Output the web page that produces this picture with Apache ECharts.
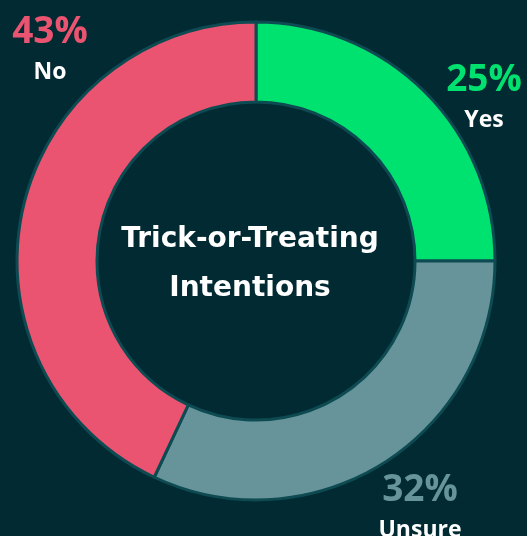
<!DOCTYPE html>
<html><head><meta charset="utf-8">
<script src="https://cdn.jsdelivr.net/npm/echarts@6/dist/echarts.min.js"></script>
<style>html,body{margin:0;padding:0;background:#022a32;}#c{width:527px;height:536px;}</style>
</head><body><div id="c"></div>
<script>
const categories = ['Yes', 'Unsure', 'No'];
const values = [25, 32, 43];
const colors = ['#00e26f', '#66949a', '#ea5470'];
const labelPos = [[484, 58], [420, 468], [50, 10]];
const chart = echarts.init(document.getElementById('c'));
const FONT = '"Open Sans"';
chart.setOption({
  backgroundColor: '#022a32',
  title: {
    text: 'Trick-or-Treating\nIntentions',
    left: 245, top: 210, textAlign: 'center',
    textStyle: { color: '#ffffff', fontFamily: '"DejaVu Sans"', fontWeight: 'bold', fontSize: 28, lineHeight: 49 }
  },
  series: [{
    type: 'pie',
    center: [256, 261],
    radius: [159, 239],
    startAngle: 90,
    clockwise: true,
    animation: false,
    itemStyle: { borderColor: '#0d4a52', borderWidth: 3 },
    labelLine: { show: false },
    label: {
      show: true,
      position: 'outside',
      overflow: 'none',
      formatter: p => '{p|' + p.value + '%}\n{n|' + p.name + '}',
      rich: {
        p: { fontFamily: FONT, fontWeight: 'bold', fontSize: 37, lineHeight: 44, color: 'inherit', align: 'center' },
        n: { fontFamily: FONT, fontWeight: 'bold', fontSize: 23, lineHeight: 36, color: '#ffffff', align: 'center' }
      }
    },
    labelLayout: p => ({ x: labelPos[p.dataIndex][0], y: labelPos[p.dataIndex][1], align: 'center', verticalAlign: 'top', hideOverlap: false, moveOverlap: null }),
    data: categories.map((c, i) => ({
      name: c, value: values[i],
      itemStyle: { color: colors[i] },
      label: { overflow: 'none', rich: { p: { color: colors[i] } } }
    }))
  }]
});
</script></body></html>
